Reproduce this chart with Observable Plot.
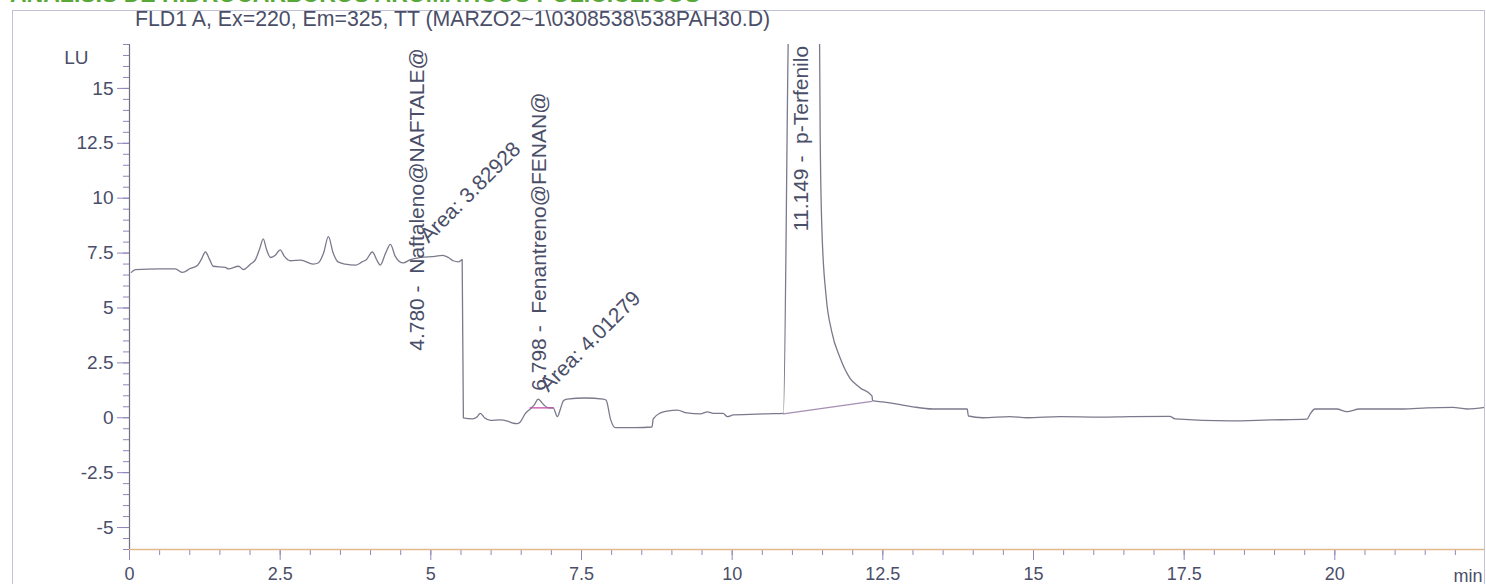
<!DOCTYPE html>
<html>
<head>
<meta charset="utf-8">
<script src="https://cdn.jsdelivr.net/npm/d3@7"></script>
<script src="https://cdn.jsdelivr.net/npm/@observablehq/plot@0.6"></script>
<style>
html, body { margin: 0; padding: 0; background: #fff; }
#page { position: relative; width: 1486px; height: 584px; overflow: hidden; font-family: "Liberation Sans", Arial, sans-serif; }
#chart { position: absolute; left: 0; top: 0; }
#frame { position: absolute; left: 12px; top: 10px; width: 1473px; height: 620px; border: 1px solid #c2c2d2; box-sizing: border-box; }
#header { position: absolute; left: 10px; top: -17px; font-size: 23px; line-height: 1; color: #58a838; font-weight: bold; white-space: pre; }
#title { position: absolute; left: 135px; top: 9px; font-size: 21.3px; line-height: 1; color: #4a4e68; white-space: pre; }
</style>
</head>
<body>
<div id="page">
  <div id="chart"></div>
  <div id="frame"></div>
  <div id="header">ANALISIS DE HIDROCARBUROS AROMATICOS POLICICLICOS</div>
  <div id="title">FLD1 A, Ex=220, Em=325, TT (MARZO2~1\0308538\538PAH30.D)</div>
</div>
<script>
// ---- data ----
const timeMin = [
  0.03, 0.10, 0.50, 0.76, 0.88, 1.01, 1.13, 1.19, 1.26, 1.33, 1.39, 1.59, 1.64, 1.81, 1.89,
  2.01, 2.09, 2.16, 2.22, 2.27, 2.34, 2.42, 2.50, 2.57, 2.67, 2.84, 3.05, 3.13, 3.22, 3.30,
  3.38, 3.46, 3.58, 3.75, 3.86, 3.93, 4.03, 4.11, 4.16, 4.25, 4.33, 4.41, 4.54, 4.66, 4.83,
  5.07, 5.19, 5.29, 5.37, 5.46, 5.52, 5.54, 5.69, 5.77, 5.82, 5.89, 5.99, 6.15, 6.27, 6.37,
  6.43, 6.48, 6.57, 6.65, 6.72, 6.78, 6.87, 6.95, 7.03, 7.10, 7.15, 7.20, 7.26, 7.56, 7.86,
  7.91, 7.98, 8.06, 8.39, 8.67, 8.69, 8.81, 8.92, 9.09, 9.25, 9.47, 9.59, 9.69, 9.85, 9.92,
  10.02, 10.58, 10.85, 10.93, 11.149, 11.45, 11.46, 11.49, 11.56, 11.65, 11.79, 11.95, 12.12, 12.32, 12.33,
  12.50, 12.79, 13.00, 13.33, 13.90, 13.92, 14.16, 14.61, 14.89, 15.44, 16.10, 16.60, 17.26, 17.35, 18.26,
  18.92, 19.54, 19.59, 19.67, 20.03, 20.20, 20.41, 21.13, 21.53, 21.96, 22.19, 22.49
];
const signalLU = [
  6.62, 6.75, 6.78, 6.78, 6.62, 6.80, 6.95, 7.20, 7.55, 7.20, 6.90, 6.85, 6.78, 6.90, 6.75,
  7.00, 7.20, 7.70, 8.15, 7.70, 7.30, 7.40, 7.65, 7.35, 7.15, 7.18, 7.00, 7.05, 7.50, 8.25,
  7.50, 7.10, 7.00, 6.95, 7.10, 7.20, 7.55, 7.15, 6.95, 7.50, 7.90, 7.35, 7.05, 7.20, 7.30,
  7.35, 7.40, 7.30, 7.15, 7.10, 7.20, 0.00, -0.05, 0.05, 0.20, 0.00, -0.12, -0.10, -0.15, -0.25,
  -0.27, -0.20, 0.20, 0.40, 0.60, 0.85, 0.60, 0.45, 0.45, 0.05, 0.40, 0.78, 0.85, 0.90, 0.85,
  0.80, -0.05, -0.45, -0.45, -0.42, -0.05, 0.22, 0.30, 0.35, 0.22, 0.18, 0.27, 0.20, 0.20, 0.05,
  0.13, 0.18, 0.20, 17.2, 40, 17.2, 13.0, 8.5, 5.5, 3.95, 2.73, 1.82, 1.37, 1.00, 0.78,
  0.72, 0.60, 0.50, 0.40, 0.40, 0.08, 0.00, 0.05, 0.00, 0.05, 0.03, 0.05, 0.06, -0.05, -0.14,
  -0.10, -0.06, 0.17, 0.40, 0.40, 0.28, 0.40, 0.40, 0.45, 0.47, 0.40, 0.47
];
const peakRT = [4.780, 6.798, 11.149];
const peakName = ["Naftaleno@NAFTALE@", "Fenantreno@FENAN@", "p-Terfenilo"];
const peakLabelLU = [3.05, 1.23, 8.5];
const areaValue = ["3.82928", "4.01279"];
const areaLabelMin = [4.96, 6.95];
const areaLabelLU = [7.92, 1.14];
const phenBaseMin = [6.65, 7.03];
const phenBaseLU = [0.45, 0.45];
const terfBaseMin = [10.85, 12.32];
const terfBaseLU = [0.18, 0.75];
const yMajorTicks = [-5, -2.5, 0, 2.5, 5, 7.5, 10, 12.5, 15];
const yMinorTicks = [-6, -5.5, -5, -4.5, -4, -3.5, -3, -2.5, -2, -1.5, -1, -0.5, 0, 0.5, 1, 1.5, 2, 2.5, 3, 3.5, 4, 4.5, 5, 5.5, 6, 6.5, 7, 7.5, 8, 8.5, 9, 9.5, 10, 10.5, 11, 11.5, 12, 12.5, 13, 13.5, 14, 14.5, 15, 15.5, 16, 16.5, 17];
const xMajorTicks = [0, 2.5, 5, 7.5, 10, 12.5, 15, 17.5, 20];
const xMinorTicks = [0, 0.5, 1, 1.5, 2, 2.5, 3, 3.5, 4, 4.5, 5, 5.5, 6, 6.5, 7, 7.5, 8, 8.5, 9, 9.5, 10, 10.5, 11, 11.5, 12, 12.5, 13, 13.5, 14, 14.5, 15, 15.5, 16, 16.5, 17, 17.5, 18, 18.5, 19, 19.5, 20, 20.5, 21, 21.5, 22];

// ---- styling ----
const textColor = "#4a4e68";
const tickColor = "#8f86bc";
const traceColor = "#7a7a8c";
const font = "Liberation Sans, Arial, sans-serif";

const chart = Plot.plot({
  width: 1486,
  height: 584,
  marginLeft: 129,
  marginRight: 1,
  marginTop: 44,
  marginBottom: 35,
  style: { background: "transparent", fontFamily: font, color: textColor },
  x: { domain: [0, 22.5], axis: null },
  y: { domain: [-6, 17], axis: null },
  marks: [
    Plot.axisY(yMinorTicks, { tickSize: 6, tickFormat: () => "", stroke: tickColor, label: null }),
    Plot.axisY(yMajorTicks, { tickSize: 12, tickPadding: 4, tickFormat: d => String(d), fontSize: 19, stroke: tickColor, fill: textColor, label: null }),
    Plot.axisX(xMinorTicks, { tickSize: 6, tickFormat: () => "", stroke: tickColor, label: null }),
    Plot.axisX(xMajorTicks, { tickSize: 11, tickPadding: 7, tickFormat: d => String(d), fontSize: 18, stroke: tickColor, fill: textColor, label: null }),
    Plot.ruleX([0], { stroke: "#6f6f80", strokeWidth: 1.2 }),
    Plot.ruleY([-6], { stroke: "#e2b98a", strokeWidth: 1.5 }),
    Plot.line(timeMin, { x: timeMin, y: signalLU, stroke: traceColor, strokeWidth: 1.3, curve: "monotone-x", clip: true }),
    Plot.line(phenBaseMin, { x: phenBaseMin, y: phenBaseLU, stroke: "#c04aa8", strokeWidth: 1.3 }),
    Plot.line(terfBaseMin, { x: terfBaseMin, y: terfBaseLU, stroke: "#a58fb4", strokeWidth: 1.3 }),
    Plot.text(peakRT, {
      x: peakRT, y: peakLabelLU,
      text: peakRT.map((t, i) => t.toFixed(3) + " -\u00a0 " + peakName[i]),
      rotate: -90, textAnchor: "start", lineAnchor: "middle", fontSize: 21, fill: textColor
    }),
    Plot.text(areaValue, {
      x: areaLabelMin, y: areaLabelLU,
      text: areaValue.map(a => "Area: " + a),
      rotate: -45, textAnchor: "start", lineAnchor: "bottom", fontSize: 21, fill: textColor
    }),
    Plot.text(["LU"], { frameAnchor: "top-left", dx: -41, dy: 6, textAnchor: "end", fontSize: 19, fill: textColor }),
    Plot.text(["min"], { frameAnchor: "bottom-right", dx: -3, dy: 32, textAnchor: "end", lineAnchor: "bottom", fontSize: 18, fill: textColor })
  ]
});
document.getElementById("chart").appendChild(chart);
</script>
</body>
</html>
